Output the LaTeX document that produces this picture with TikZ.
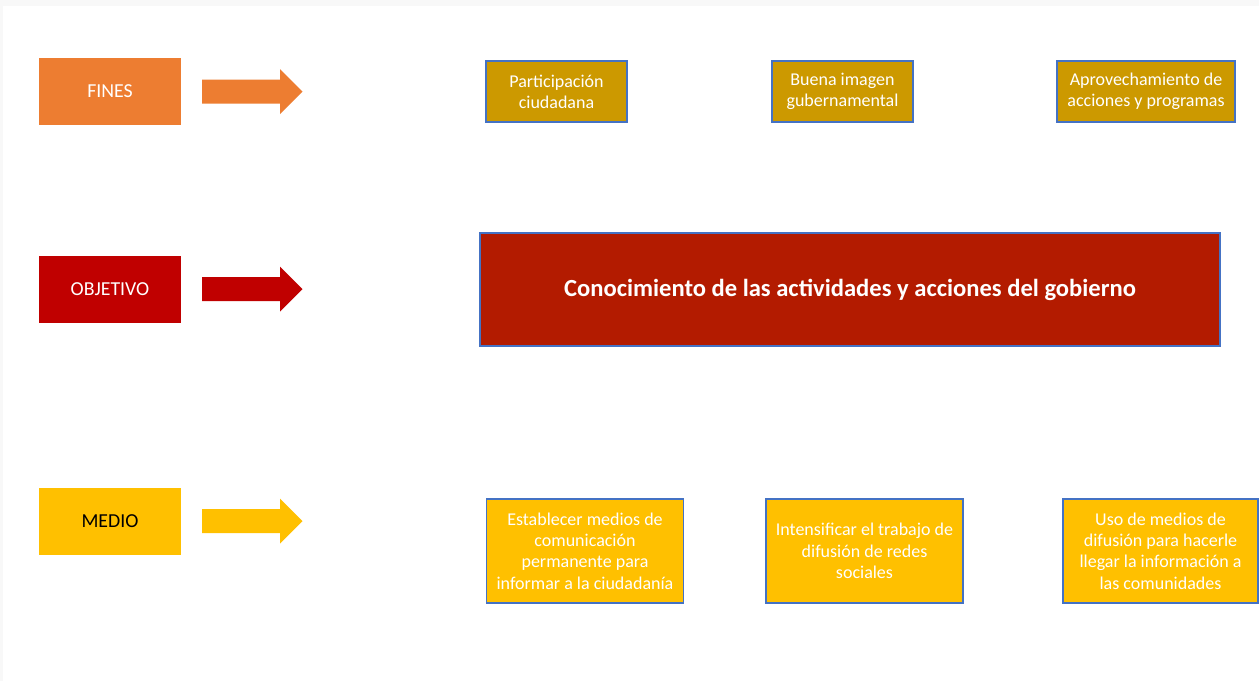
\documentclass[tikz,border=0pt]{standalone}
\usepackage{fontspec}
\setmainfont{Carlito}
\usepackage{tikz}
\usetikzlibrary{positioning}

\definecolor{finescol}{HTML}{ED7D31}
\definecolor{objcol}{HTML}{C00000}
\definecolor{mediocol}{HTML}{FFC000}
\definecolor{finebox}{HTML}{CC9900}
\definecolor{objbox}{HTML}{B31B00}
\definecolor{edgeblue}{HTML}{4472C4}
\definecolor{bgstrip}{HTML}{F8F8F8}

\begin{document}
\begin{tikzpicture}[x=1pt,y=-1pt,
        rowlabel/.style={minimum width=142pt,minimum height=67pt,inner sep=0pt,
            font=\fontsize{19.8}{23}\selectfont},
        item/.style={draw=edgeblue,line width=1.4pt,inner sep=0pt,align=center,
            text=white,font=\fontsize{18}{21.3}\selectfont},
        fineitem/.style={item,fill=finebox,minimum height=61pt},
        medioitem/.style={item,fill=mediocol,minimum height=104pt}]
            \useasboundingbox (0,0) rectangle (1259,681);
            \fill[bgstrip] (0,0) rectangle (1259,681);
            \fill[white] (3,6) rectangle (1259,681);
            % rows and block arrows
            \foreach \nm/\y/\col/\txt/\tc in {fines/91.5/finescol/FINES/white,
                    objetivo/289/objcol/OBJETIVO/white,
                    medio/521/mediocol/MEDIO/black}{%
                    \node[rowlabel,fill=\col,text=\tc] (\nm) at (110,\y) {\txt};
                    \fill[\col] (202,\y-12) -- (280,\y-12) -- (280,\y-22.5) -- (302.5,\y)
                        -- (280,\y+22.5) -- (280,\y+12) -- (202,\y+12) -- cycle;
                }
            % fines
            \node[fineitem,minimum width=141pt] (f1) at (556.5,91.5) {Participación\\ciudadana};
            \node[fineitem,minimum width=141pt] (f2) at (842.5,91.5) {Buena imagen\\gubernamental};
            \node[fineitem,minimum width=178pt] (f3) at (1146,91.5) {Aprovechamiento de\\acciones y programas};
            % objetivo
            \node[item,fill=objbox,minimum width=740pt,minimum height=113pt,
                font=\fontsize{24.6}{29}\selectfont\bfseries] (obj) at (850,289.5)
                {Conocimiento de las actividades y acciones del gobierno};
            % medio
            \node[medioitem,minimum width=197pt] (m1) at (585,551)
                {Establecer medios de\\comunicación\\permanente para\\informar a la ciudadanía};
            \node[medioitem,minimum width=197pt] (m2) at (864.5,551)
                {Intensificar el trabajo de\\difusión de redes\\sociales};
            \node[medioitem,minimum width=195pt] (m3) at (1160.5,551)
                {Uso de medios de\\difusión para hacerle\\llegar la información a\\las comunidades};
        \end{tikzpicture}
\end{document}
